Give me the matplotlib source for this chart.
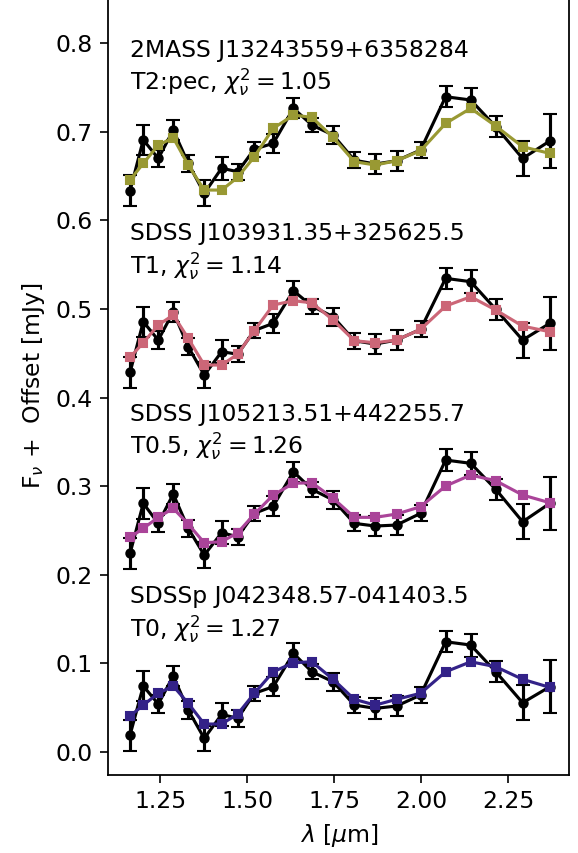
import numpy as np
import matplotlib
matplotlib.use('Agg')
import matplotlib.pyplot as plt
from matplotlib.ticker import MultipleLocator

plt.rcParams['font.size'] = 11.25
plt.rcParams['xtick.major.size'] = 3.9
plt.rcParams['ytick.major.size'] = 3.9
plt.rcParams['axes.linewidth'] = 0.85

wave = [1.164, 1.202, 1.245, 1.288, 1.331, 1.377, 1.427, 1.473, 1.521, 1.575, 1.633,
        1.686, 1.747, 1.808, 1.868, 1.929, 1.998, 2.070, 2.142, 2.214, 2.291, 2.369]

names = ['SDSSp J042348.57-041403.5', 'SDSS J105213.51+442255.7',
         'SDSS J103931.35+325625.5', '2MASS J13243559+6358284']
spts = ['T0', 'T0.5', 'T1', 'T2:pec']
chi2 = [1.27, 1.26, 1.14, 1.05]
colors = ['#332288', '#AA4499', '#CC6677', '#999933']

# observed fluxes (offset included)
obs_0 = [0.0189, 0.0742, 0.0539, 0.0855, 0.0471, 0.0151, 0.0422, 0.0377, 0.0660, 0.0734, 0.1111,
         0.0903, 0.0790, 0.0527, 0.0490, 0.0516, 0.0640, 0.1242, 0.1205, 0.0903, 0.0553, 0.0734]
obs_1 = [0.2240, 0.2805, 0.2579, 0.2910, 0.2523, 0.2221, 0.2473, 0.2428, 0.2692, 0.2775, 0.3162,
         0.2963, 0.2843, 0.2579, 0.2549, 0.2560, 0.2692, 0.3294, 0.3257, 0.2963, 0.2597, 0.2805]
obs_2 = [0.4284, 0.4856, 0.4649, 0.4969, 0.4574, 0.4254, 0.4517, 0.4490, 0.4757, 0.4838, 0.5206,
         0.5033, 0.4912, 0.4641, 0.4604, 0.4649, 0.4770, 0.5346, 0.5308, 0.4996, 0.4649, 0.4838]
obs_3 = [0.6335, 0.6910, 0.6700, 0.7020, 0.6645, 0.6306, 0.6590, 0.6550, 0.6806, 0.6870, 0.7266,
         0.7077, 0.6964, 0.6680, 0.6637, 0.6674, 0.6795, 0.7397, 0.7360, 0.7058, 0.6700, 0.6897]

# uncertainties (same for all objects, roughly)
err = [0.0175, 0.0172, 0.0100, 0.0115, 0.0097, 0.0145, 0.0128, 0.0092, 0.0085, 0.0110, 0.0114,
       0.0084, 0.0101, 0.0091, 0.0115, 0.0114, 0.0090, 0.0121, 0.0130, 0.0121, 0.0197, 0.0300]

# best fitting templates
mod_0 = [0.0403, 0.0527, 0.0660, 0.0742, 0.0547, 0.0313, 0.0313, 0.0426, 0.0660, 0.0903, 0.1005,
         0.1016, 0.0818, 0.0592, 0.0527, 0.0592, 0.0660, 0.0903, 0.1016, 0.0960, 0.0818, 0.0727]
mod_1 = [0.2421, 0.2523, 0.2647, 0.2749, 0.2571, 0.2360, 0.2372, 0.2473, 0.2684, 0.2899, 0.3031,
         0.3038, 0.2862, 0.2647, 0.2647, 0.2684, 0.2767, 0.3001, 0.3125, 0.3060, 0.2899, 0.2812]
mod_2 = [0.4454, 0.4619, 0.4819, 0.4932, 0.4668, 0.4367, 0.4367, 0.4490, 0.4757, 0.5045, 0.5093,
         0.5070, 0.4875, 0.4641, 0.4619, 0.4649, 0.4770, 0.5033, 0.5138, 0.4988, 0.4807, 0.4743]
mod_3 = [0.6456, 0.6645, 0.6850, 0.6934, 0.6626, 0.6343, 0.6343, 0.6487, 0.6720, 0.7040, 0.7190,
         0.7164, 0.6938, 0.6663, 0.6626, 0.6674, 0.6787, 0.7096, 0.7266, 0.7066, 0.6832, 0.6757]

label_y = [0.1676, 0.3738, 0.5776, 0.7845]

obs = [obs_0, obs_1, obs_2, obs_3]
mods = [mod_0, mod_1, mod_2, mod_3]

fig = plt.figure(figsize=(578 / 150, 853 / 150), dpi=150)
ax = fig.add_axes([0.1874, 0.0914, 0.7976, 0.9121])

for i in range(4):
    ax.errorbar(wave, obs[i], yerr=err, fmt='o-', color='k', ms=4, capsize=3.5, lw=1.5, zorder=2)
    ax.plot(wave, mods[i], 's-', color=colors[i], ms=4, lw=1.5, zorder=3)
    ax.text(wave[0], label_y[i], names[i], va='baseline')
    ax.text(wave[0], label_y[i] - 0.037,
            spts[i] + r', $\chi^2_\nu = $' + '%.2f' % chi2[i], va='baseline')

ax.set_xlim(1.1016, 2.4251)
ax.set_ylim(-0.0263, 0.8523)
ax.xaxis.set_major_locator(MultipleLocator(0.25))
ax.yaxis.set_major_locator(MultipleLocator(0.1))
ax.set_xlabel(r'$\lambda$ [$\mu$m]')
ax.set_ylabel(r'F$_\nu$ +  Offset [mJy]')

fig.savefig('out.png', dpi=150)
